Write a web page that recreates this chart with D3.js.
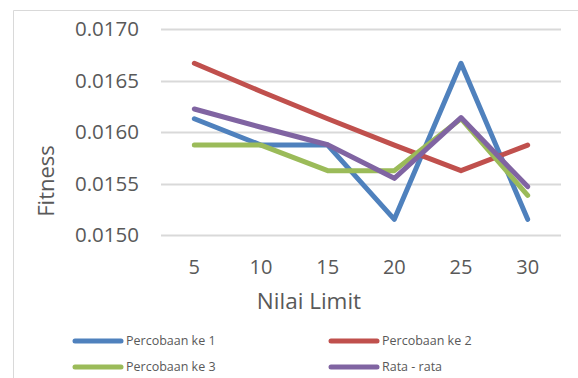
<!DOCTYPE html>
<html>
<head>
<meta charset="utf-8">
<script src="https://cdn.jsdelivr.net/npm/d3@7"></script>
<style>
  body { margin: 0; background: #fff; }
  svg text { font-family: "Open Sans", "Noto Sans", sans-serif; fill: #595959; }
</style>
</head>
<body>
<div id="chart"></div>
<script>
// Fitness vs Nilai Limit
const categories = ['5', '10', '15', '20', '25', '30'];
const percobaan1 = [0.016129, 0.015873, 0.015873, 0.015152, 0.016667, 0.015152];
const percobaan2 = [0.016667, 0.016393, 0.016129, 0.015873, 0.015625, 0.015873];
const percobaan3 = [0.015873, 0.015873, 0.015625, 0.015625, 0.016129, 0.015385];
const rataRata   = [0.016223, 0.016046, 0.015876, 0.015550, 0.016140, 0.015470];
const yTicks = [0.0150, 0.0155, 0.0160, 0.0165, 0.0170];

const seriesList = [
  {name: 'Percobaan ke 1', values: percobaan1, color: '#4f81bd'},
  {name: 'Percobaan ke 2', values: percobaan2, color: '#c0504d'},
  {name: 'Percobaan ke 3', values: percobaan3, color: '#9bbb59'},
  {name: 'Rata - rata',    values: rataRata,   color: '#8064a2'}
];

(function(){
  const w = 578, h = 378;
  const svg = d3.select('#chart').append('svg').attr('width', w).attr('height', h);

  // outer chart border (left + top visible)
  svg.append('path').attr('d', 'M13.5,378 V10.5 H578').attr('fill', 'none').attr('stroke', '#d9d9d9').attr('stroke-width', 1);

  const plot = {left: 161, right: 561, top: 29, bottom: 235};
  const x = d3.scaleBand().domain(categories).range([plot.left, plot.right]);
  const y = d3.scaleLinear().domain([0.0150, 0.0170]).range([plot.bottom, plot.top]);

  // gridlines
  svg.append('g').selectAll('line').data(yTicks).enter().append('line')
    .attr('x1', plot.left).attr('x2', plot.right)
    .attr('y1', d => Math.round(y(d)) + 0.5).attr('y2', d => Math.round(y(d)) + 0.5)
    .attr('stroke', '#d9d9d9').attr('stroke-width', 2);

  // y tick labels
  svg.append('g').selectAll('text').data(yTicks).enter().append('text')
    .attr('x', 139).attr('y', d => y(d)).attr('dy', '0.35em')
    .attr('text-anchor', 'end').attr('font-size', '20.5px')
    .text(d => d.toFixed(4));

  // x tick labels
  svg.append('g').selectAll('text').data(categories).enter().append('text')
    .attr('x', d => x(d) + x.bandwidth() / 2).attr('y', 267).attr('dy', '0.35em')
    .attr('text-anchor', 'middle').attr('font-size', '20px')
    .text(d => d);

  // axis titles
  svg.append('text').attr('x', 309).attr('y', 301).attr('dy', '0.35em')
    .attr('text-anchor', 'middle').attr('font-size', '22.5px').text('Nilai Limit');
  svg.append('text').attr('transform', 'translate(46,181) rotate(-90)').attr('dy', '0.35em')
    .attr('text-anchor', 'middle').attr('font-size', '22px').text('Fitness');

  // lines
  const line = d3.line()
    .x((d, i) => x(categories[i]) + x.bandwidth() / 2)
    .y(d => y(d));
  svg.append('g').selectAll('path').data(seriesList).enter().append('path')
    .attr('d', d => line(d.values))
    .attr('fill', 'none').attr('stroke', d => d.color)
    .attr('stroke-width', 5).attr('stroke-linejoin', 'round').attr('stroke-linecap', 'round');

  // legend
  const legendPos = [[73, 341], [329, 341], [73, 367], [329, 367]];
  const lg = svg.append('g').selectAll('g').data(seriesList).enter().append('g')
    .attr('transform', (d, i) => `translate(${legendPos[i][0]},${legendPos[i][1]})`);
  lg.append('line').attr('x1', 2).attr('x2', 48).attr('y1', 0).attr('y2', 0)
    .attr('stroke', d => d.color).attr('stroke-width', 5).attr('stroke-linecap', 'round');
  lg.append('text').attr('x', 53).attr('y', 0).attr('dy', '0.35em')
    .attr('font-size', '12.5px').text(d => d.name);
})();
</script>
</body>
</html>
